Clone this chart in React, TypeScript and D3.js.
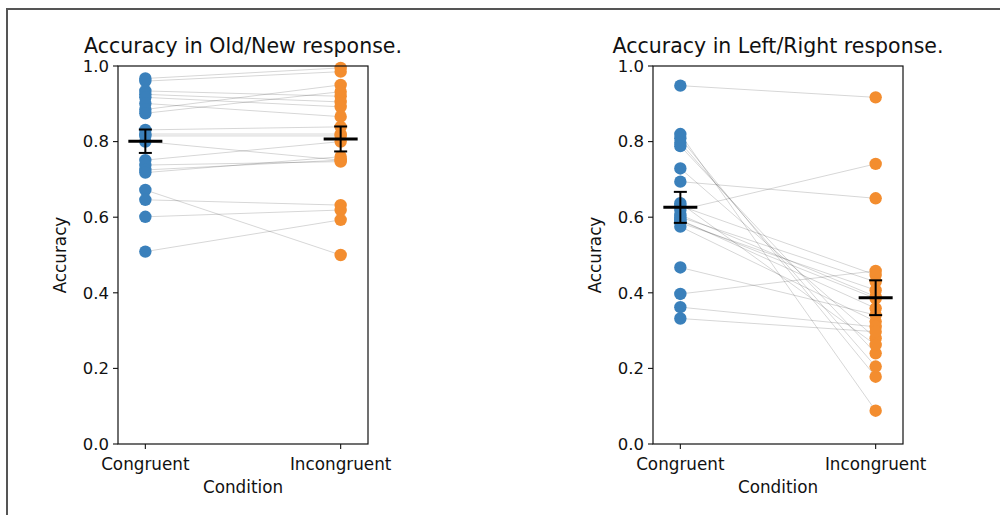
import * as React from "react";
import * as d3 from "d3";

// paired accuracy per subject, two conditions, two response types
const conditions = ["Congruent", "Incongruent"];
const yTicks = [0, 0.2, 0.4, 0.6, 0.8, 1.0];

const oldNewCongruent = [
  0.967, 0.96, 0.934, 0.925, 0.917, 0.901, 0.885, 0.875, 0.831, 0.815,
  0.8, 0.751, 0.738, 0.725, 0.718, 0.672, 0.646, 0.601, 0.509, 0.82,
];
const oldNewIncongruent = [
  0.995, 0.985, 0.92, 0.905, 0.892, 0.866, 0.95, 0.932, 0.839, 0.815,
  0.751, 0.8, 0.747, 0.751, 0.76, 0.5, 0.632, 0.619, 0.593, 0.82,
];
const oldNewMean = [0.801, 0.807];
const oldNewErr = [0.031, 0.033];

const leftRightCongruent = [
  0.948, 0.82, 0.809, 0.797, 0.788, 0.729, 0.694, 0.637, 0.619, 0.606,
  0.593, 0.575, 0.467, 0.397, 0.362, 0.332, 0.63, 0.6, 0.585, 0.59,
];
const leftRightIncongruent = [
  0.917, 0.088, 0.178, 0.205, 0.24, 0.28, 0.65, 0.262, 0.741, 0.39,
  0.359, 0.324, 0.341, 0.458, 0.31, 0.297, 0.447, 0.429, 0.407, 0.385,
];
const leftRightMean = [0.626, 0.387];
const leftRightErr = [0.041, 0.046];

const COLORS = ["#3a80bb", "#f38d2f"];
const FONT = "DejaVu Sans, sans-serif";
const TOP = 66;
const BOTTOM = 444;

interface PanelProps {
  title: string;
  left: number;
  right: number;
  cong: number[];
  incong: number[];
  mean: number[];
  err: number[];
}

function Panel({ title, left, right, cong, incong, mean, err }: PanelProps) {
  const x = d3.scaleLinear().domain([-0.14, 1.14]).range([left, right]);
  const y = d3.scaleLinear().domain([0, 1]).range([BOTTOM, TOP]);
  const fmt = d3.format(".1f");
  const series = [cong, incong];

  return (
    <g fontFamily={FONT}>
      {/* subject lines */}
      {cong.map((v, i) => (
        <line
          key={"l" + i}
          x1={x(0)}
          x2={x(1)}
          y1={y(v)}
          y2={y(incong[i])}
          stroke="#000"
          strokeOpacity={0.18}
          strokeWidth={0.9}
        />
      ))}
      {series.map((vals, c) =>
        vals.map((v, i) => (
          <circle key={`p${c}-${i}`} cx={x(c)} cy={y(v)} r={6.2} fill={COLORS[c]} />
        ))
      )}
      {/* mean + error bars */}
      {mean.map((m, c) => (
        <g key={"m" + c} stroke="#000">
          <line x1={x(c)} x2={x(c)} y1={y(m - err[c])} y2={y(m + err[c])} strokeWidth={2} />
          <line x1={x(c) - 6.5} x2={x(c) + 6.5} y1={y(m - err[c])} y2={y(m - err[c])} strokeWidth={2} />
          <line x1={x(c) - 6.5} x2={x(c) + 6.5} y1={y(m + err[c])} y2={y(m + err[c])} strokeWidth={2} />
          <line x1={x(c) - 17} x2={x(c) + 17} y1={y(m)} y2={y(m)} strokeWidth={3} />
        </g>
      ))}

      <rect x={left} y={TOP} width={right - left} height={BOTTOM - TOP} fill="none" stroke="#111" strokeWidth={1.2} />

      {yTicks.map((t) => (
        <g key={"y" + t}>
          <line x1={left - 5} x2={left} y1={y(t)} y2={y(t)} stroke="#111" strokeWidth={1.1} />
          <text x={left - 9} y={y(t)} dy="0.35em" textAnchor="end" fontSize={16.5} fill="#111">
            {fmt(t)}
          </text>
        </g>
      ))}
      {conditions.map((c, i) => (
        <g key={c}>
          <line x1={x(i)} x2={x(i)} y1={BOTTOM} y2={BOTTOM + 5} stroke="#111" strokeWidth={1.1} />
          <text x={x(i)} y={BOTTOM + 26} textAnchor="middle" fontSize={16.8} fill="#111">
            {c}
          </text>
        </g>
      ))}
      <text x={(left + right) / 2} y={BOTTOM + 49} textAnchor="middle" fontSize={16.8} fill="#111">
        Condition
      </text>
      <text
        transform={`translate(${left - 52},${(TOP + BOTTOM) / 2}) rotate(-90)`}
        textAnchor="middle"
        fontSize={16.8}
        fill="#111"
      >
        Accuracy
      </text>
      <text x={(left + right) / 2} y={TOP - 13} textAnchor="middle" fontSize={20.5} fill="#111">
        {title}
      </text>
    </g>
  );
}

export default function App() {
  return (
    <svg
      width={1000}
      height={515}
      style={{ position: "absolute", left: 0, top: 0, background: "#fff" }}
    >
      <rect width={1000} height={515} fill="#fff" />
      <path d="M7,515 V9 H1000" fill="none" stroke="#555" strokeWidth={2} />
      <Panel
        title="Accuracy in Old/New response."
        left={118}
        right={368}
        cong={oldNewCongruent}
        incong={oldNewIncongruent}
        mean={oldNewMean}
        err={oldNewErr}
      />
      <Panel
        title="Accuracy in Left/Right response."
        left={653}
        right={903}
        cong={leftRightCongruent}
        incong={leftRightIncongruent}
        mean={leftRightMean}
        err={leftRightErr}
      />
    </svg>
  );
}
